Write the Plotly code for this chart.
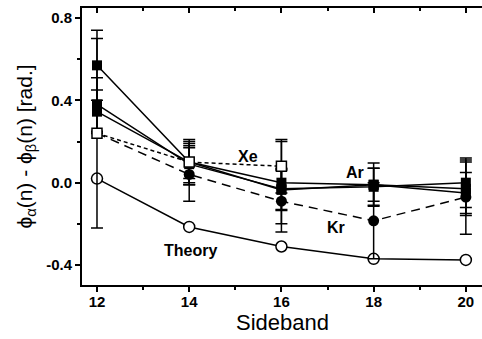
import plotly.graph_objects as go

sidebands = [12, 14, 16, 18, 20]
xe_sidebands = [12, 14, 16]

theory = [0.02, -0.215, -0.31, -0.37, -0.375]
kr = [0.24, 0.04, -0.09, -0.185, -0.07]
kr_err = [0.0, 0.13, 0.15, 0.185, 0.18]
xe = [0.24, 0.10, 0.08]
xe_err = [0.46, 0.10, 0.13]
ar1 = [0.57, 0.10, 0.00, -0.01, -0.03]
ar1_err = [0.17, 0.11, 0.20, 0.105, 0.13]
ar2 = [0.38, 0.09, -0.03, -0.02, 0.00]
ar2_err = [0.13, 0.10, 0.10, 0.09, 0.12]
ar3 = [0.345, 0.10, -0.035, -0.01, -0.05]
ar3_err = [0.105, 0.08, 0.10, 0.08, 0.10]

x_ticks = [12, 14, 16, 18, 20]
y_ticks = [-0.4, 0.0, 0.4, 0.8]

FONT = "Liberation Sans, Arial, sans-serif"
BLK = "black"
XR = [11.675, 20.35]

def eb(arr):
    return dict(type="data", array=arr, visible=True, color=BLK, thickness=1.5, width=6)

fig = go.Figure()

# Theory
fig.add_trace(go.Scatter(
    x=sidebands, y=theory, mode="lines+markers",
    line=dict(color=BLK, width=1.5),
    marker=dict(symbol="circle", size=11, color="white", line=dict(color=BLK, width=1.5)),
    showlegend=False))

# Ar series (filled squares, solid)
for vals, errs in [(ar1, ar1_err), (ar2, ar2_err), (ar3, ar3_err)]:
    fig.add_trace(go.Scatter(
        x=sidebands, y=vals, mode="lines+markers", error_y=eb(errs),
        line=dict(color=BLK, width=1.5),
        marker=dict(symbol="square", size=10, color=BLK),
        showlegend=False))

# Kr (filled circles, dashed)
fig.add_trace(go.Scatter(
    x=sidebands, y=kr, mode="lines+markers", error_y=eb(kr_err),
    line=dict(color=BLK, width=1.5, dash="9px,6px"),
    marker=dict(symbol="circle", size=11, color=BLK),
    showlegend=False))

# Xe (open squares, dotted)
fig.add_trace(go.Scatter(
    x=xe_sidebands, y=xe, mode="lines+markers", error_y=eb(xe_err),
    line=dict(color=BLK, width=1.5, dash="4px,3px"),
    marker=dict(symbol="square", size=10, color="white", line=dict(color=BLK, width=1.5)),
    showlegend=False))

# invisible trace for top axis
fig.add_trace(go.Scatter(x=[12], y=[0], xaxis="x2", mode="markers",
                         marker=dict(opacity=0), showlegend=False, hoverinfo="skip"))

labels = [("Xe", 15.28, 0.126), ("Ar", 17.6, 0.05), ("Kr", 17.18, -0.22), ("Theory", 14.02, -0.33)]
for t, lx, ly in labels:
    fig.add_annotation(x=lx, y=ly, text="<b>%s</b>" % t, showarrow=False,
                       font=dict(family=FONT, size=16, color=BLK))

fig.add_annotation(x=0.5, y=-0.135, xref="paper", yref="paper", text="Sideband",
                   showarrow=False, yanchor="middle",
                   font=dict(family=FONT, size=22, color=BLK))

fig.update_layout(
    width=482, height=339,
    margin=dict(l=82, r=0, t=8, b=54),
    plot_bgcolor="white", paper_bgcolor="white",
    font=dict(family=FONT, color=BLK),
    xaxis=dict(range=XR, tickvals=x_ticks, automargin=False,
               ticktext=["<b>%d</b>" % v for v in x_ticks],
               tickfont=dict(size=15, family=FONT), ticklabelstandoff=-3,
               ticks="outside", ticklen=5, tickwidth=1.5, tickcolor=BLK,
               minor=dict(tickvals=[13, 15, 17, 19], ticks="outside", ticklen=3, tickwidth=1.5, tickcolor=BLK),
               showline=True, linecolor=BLK, linewidth=2, showgrid=False, zeroline=False),
    xaxis2=dict(overlaying="x", side="top", matches="x", range=XR, automargin=False,
                tickvals=x_ticks, showticklabels=False,
                ticks="inside", ticklen=5, tickwidth=1.5, tickcolor=BLK,
                minor=dict(tickvals=[13, 15, 17, 19], ticks="inside", ticklen=3, tickwidth=1.5, tickcolor=BLK),
                showline=True, linecolor=BLK, linewidth=2, showgrid=False, zeroline=False),
    yaxis=dict(range=[-0.497, 0.8485], tickvals=y_ticks, automargin=False,
               ticktext=["<b>%.1f</b>" % v for v in y_ticks],
               tickfont=dict(size=15, family=FONT),
               ticks="outside", ticklen=5, tickwidth=1.5, tickcolor=BLK,
               minor=dict(tickvals=[-0.2, 0.2, 0.6], ticks="outside", ticklen=3, tickwidth=1.5, tickcolor=BLK),
               showline=True, linecolor=BLK, linewidth=2, showgrid=False, zeroline=False,
               title=dict(text="ϕ<sub>α</sub>(n) - ϕ<sub>β</sub>(n) [rad.]",
                          font=dict(size=21, family=FONT), standoff=8)),
)

fig.write_html("out.html", config={"displayModeBar": False},
               post_script="document.body.style.margin='0';document.body.style.overflow='hidden';")
